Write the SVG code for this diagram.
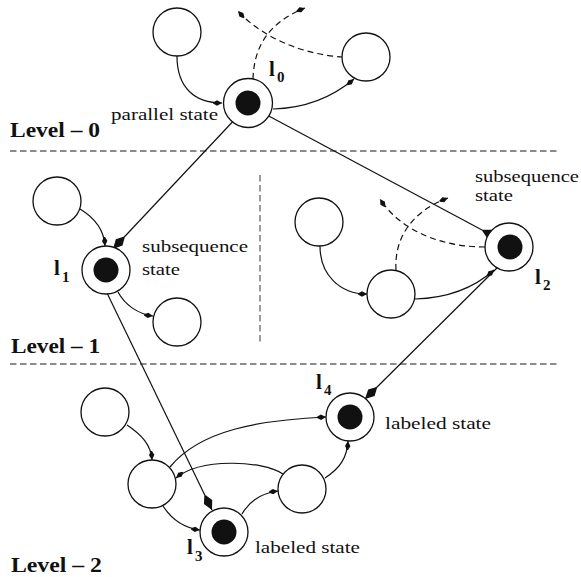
<svg xmlns="http://www.w3.org/2000/svg" width="581" height="577" viewBox="0 0 581 577">
<style>
.st{fill:#fff;stroke:#111;stroke-width:1.3}
.dot{fill:#111}
.e{fill:none;stroke:#111;stroke-width:1.2}
.d{fill:none;stroke:#111;stroke-width:1.2;stroke-dasharray:6 4}
.sep{stroke:#666;stroke-width:1.3;stroke-dasharray:6.5 3.5;fill:none}
.t{font-family:"Liberation Serif","Times New Roman",serif;font-size:17px;fill:#111}
.lv{font-family:"Liberation Serif","Times New Roman",serif;font-size:20px;font-weight:bold;fill:#111}
.lb{font-family:"Liberation Serif","Times New Roman",serif;font-size:21px;font-weight:bold;fill:#111}
.sb{font-family:"Liberation Serif","Times New Roman",serif;font-size:15px;font-weight:bold;fill:#111}
</style>
<defs>
<marker id="s" viewBox="-10 -4 11 8" refX="0" refY="0" markerWidth="11" markerHeight="8" orient="auto" markerUnits="userSpaceOnUse"><path d="M0,0 L-5,-2.7 L-9,-0.6 L-9,0.6 L-5,2.7 Z" fill="#111"/></marker>
<marker id="b" viewBox="-17 -5 18 10" refX="0" refY="0" markerWidth="18" markerHeight="10" orient="auto" markerUnits="userSpaceOnUse"><path d="M0,0 L-9,-4.6 L-16,-0.8 L-16,0.8 L-9,4.6 Z" fill="#111"/></marker>
</defs>

<g id="separators">
<line class="sep" x1="10" y1="151" x2="558" y2="151"/>
<line class="sep" x1="10" y1="364" x2="558" y2="364"/>
<line class="sep" x1="260" y1="175" x2="260" y2="342"/>
</g>

<g id="connectors">
<path class="e" d="M177,56 C177,88 195,103 222,103" marker-end="url(#s)"/>
<path class="e" d="M273,109 C310,108 335,95 354,79" marker-end="url(#s)"/>
<path class="d" d="M253,79 C254,45 270,22 305,8" marker-end="url(#s)"/>
<path class="d" d="M343,57 C305,55 262,38 238,11" marker-end="url(#s)"/>
<path class="e" d="M238,116 L113,249" marker-end="url(#b)"/>
<path class="e" d="M265,114 L497,238" marker-end="url(#b)"/>
<path class="e" d="M80,209 C95,218 104,230 105,246" marker-end="url(#s)"/>
<path class="e" d="M118,292 C125,305 138,314 153,316" marker-end="url(#s)"/>
<path class="e" d="M107,293 L212,510" marker-end="url(#b)"/>
<path class="e" d="M320,246 C320,275 340,294 367,294" marker-end="url(#s)"/>
<path class="e" d="M415,299 C450,298 475,287 494,270" marker-end="url(#s)"/>
<path class="d" d="M396,270 C394,235 415,210 448,198" marker-end="url(#s)"/>
<path class="d" d="M485,247 C440,247 400,230 380,199" marker-end="url(#s)"/>
<path class="e" d="M505,260 L365,399" marker-end="url(#b)"/>
<path class="e" d="M127,425 C142,435 151,445 152,460" marker-end="url(#s)"/>
<path class="e" d="M170,467 C200,430 260,420 326,417" marker-end="url(#s)"/>
<path class="e" d="M283,474 C262,460 200,458 176,478" marker-end="url(#s)"/>
<path class="e" d="M163,506 C172,520 185,528 200,530" marker-end="url(#s)"/>
<path class="e" d="M242,514 C250,500 262,493 278,491" marker-end="url(#s)"/>
<path class="e" d="M325,478 C340,468 347,458 348,441" marker-end="url(#s)"/>
</g>

<g id="A"><circle class="st" cx="177" cy="32" r="24"/></g>
<g id="l0"><circle class="st" cx="248" cy="103" r="24.5"/><circle class="dot" cx="248" cy="103" r="12.5"/>
<text class="lb" x="269" y="76">l</text><text class="sb" x="277" y="82">0</text>
<text class="t" x="111" y="120" textLength="107" lengthAdjust="spacingAndGlyphs">parallel state</text></g>
<g id="B"><circle class="st" cx="366" cy="57" r="24"/></g>

<g id="C"><circle class="st" cx="57" cy="201" r="24"/></g>
<g id="l1"><circle class="st" cx="106" cy="270" r="24"/><circle class="dot" cx="106" cy="270" r="12.5"/>
<text class="lb" x="54" y="275">l</text><text class="sb" x="62" y="282">1</text>
<text class="t" x="142" y="252" textLength="106" lengthAdjust="spacingAndGlyphs">subsequence</text>
<text class="t" x="142" y="275" textLength="38" lengthAdjust="spacingAndGlyphs">state</text></g>
<g id="D"><circle class="st" cx="177" cy="322" r="24"/></g>

<g id="E"><circle class="st" cx="319" cy="222" r="24"/></g>
<g id="F"><circle class="st" cx="391" cy="294" r="24"/></g>
<g id="l2"><circle class="st" cx="509" cy="247" r="24"/><circle class="dot" cx="510" cy="247" r="12.5"/>
<text class="lb" x="535" y="284">l</text><text class="sb" x="543" y="290">2</text>
<text class="t" x="475" y="182" textLength="104" lengthAdjust="spacingAndGlyphs">subsequence</text>
<text class="t" x="475" y="201" textLength="38" lengthAdjust="spacingAndGlyphs">state</text></g>

<g id="G"><circle class="st" cx="105" cy="412" r="24"/></g>
<g id="H"><circle class="st" cx="152" cy="484" r="24"/></g>
<g id="l3"><circle class="st" cx="224" cy="532" r="24"/><circle class="dot" cx="224" cy="532" r="12.5"/>
<text class="lb" x="187" y="554">l</text><text class="sb" x="195" y="561">3</text>
<text class="t" x="255" y="553" textLength="105" lengthAdjust="spacingAndGlyphs">labeled state</text></g>
<g id="I"><circle class="st" cx="302" cy="489" r="24"/></g>
<g id="l4"><circle class="st" cx="350" cy="417" r="24"/><circle class="dot" cx="350" cy="417" r="12.5"/>
<text class="lb" x="316" y="389">l</text><text class="sb" x="324" y="395">4</text>
<text class="t" x="385" y="429" textLength="106" lengthAdjust="spacingAndGlyphs">labeled state</text></g>

<g id="levels">
<text class="lv" x="10" y="137" textLength="90" lengthAdjust="spacingAndGlyphs">Level – 0</text>
<text class="lv" x="11" y="353" textLength="89" lengthAdjust="spacingAndGlyphs">Level – 1</text>
<text class="lv" x="11" y="572" textLength="91" lengthAdjust="spacingAndGlyphs">Level – 2</text>
</g>
</svg>
